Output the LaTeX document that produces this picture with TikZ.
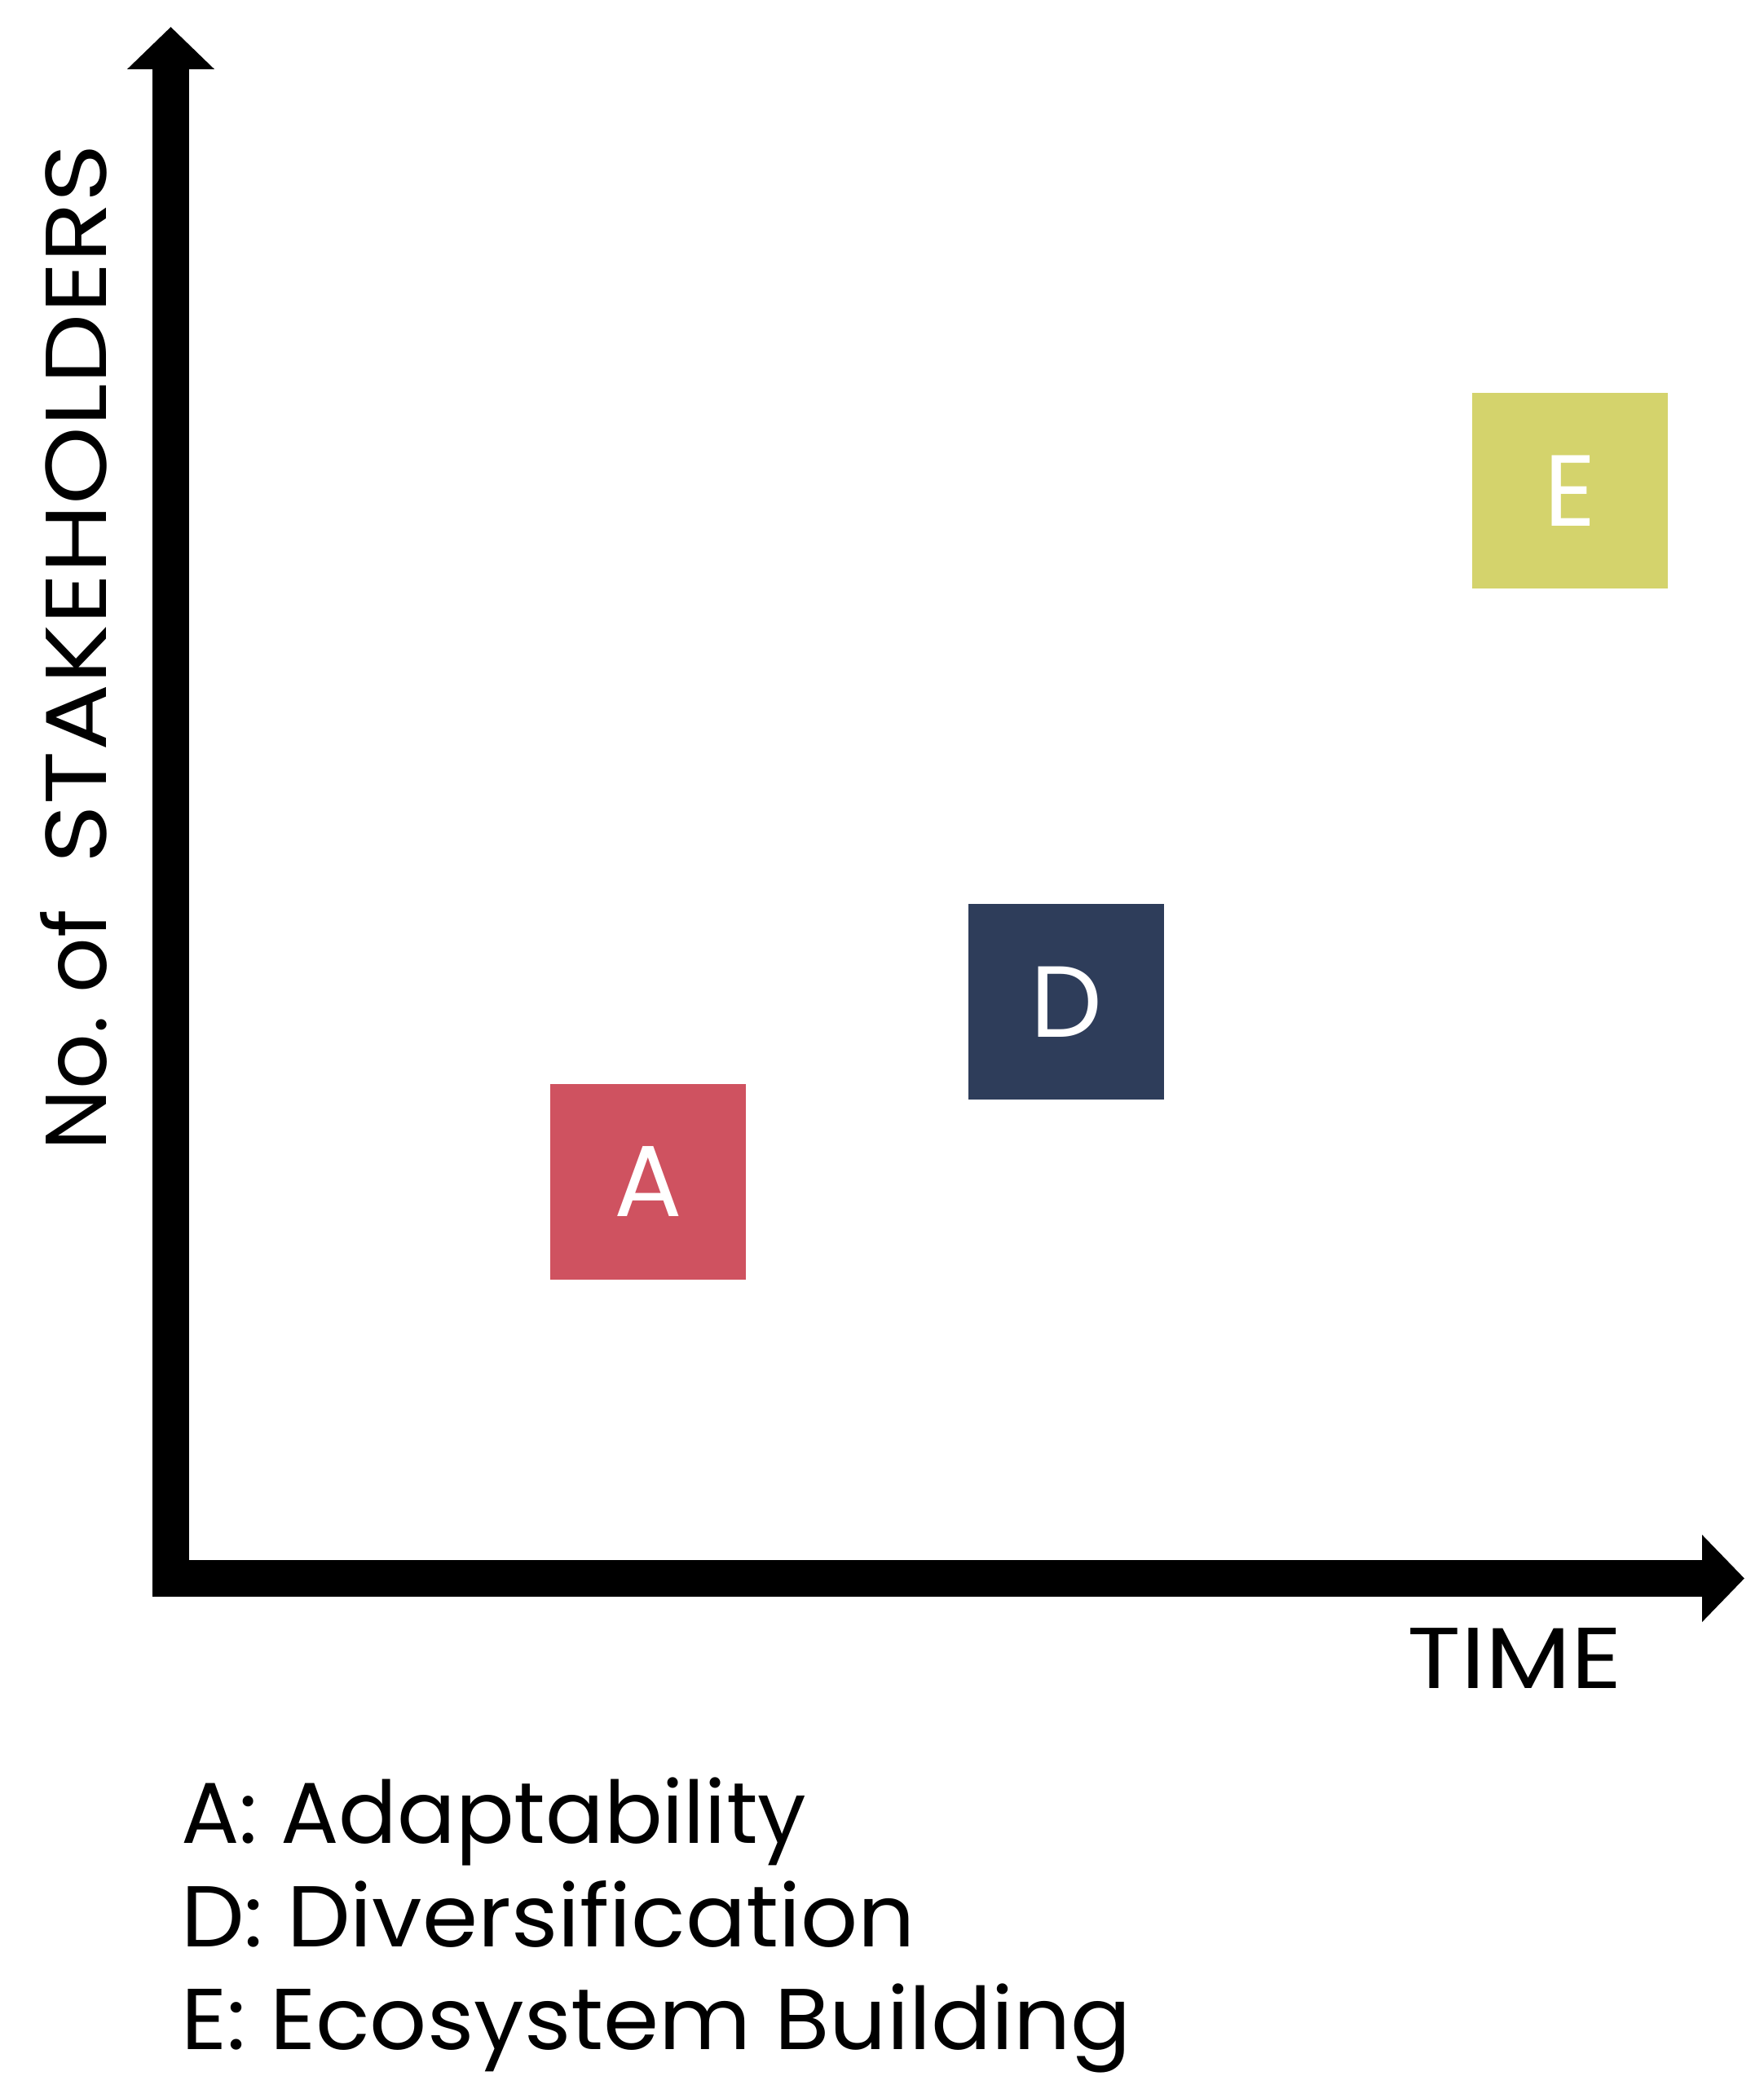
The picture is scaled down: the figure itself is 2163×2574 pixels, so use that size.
\documentclass[tikz,border=0pt]{standalone}
\usepackage{fontspec}
\setmainfont{Poppins}
\newfontfamily\widecaps{Poppins}[FakeStretch=1.15]
\newfontfamily\slightwide{Poppins}[FakeStretch=1.035]
\usetikzlibrary{arrows.meta}
\definecolor{colA}{HTML}{CF5260}
\definecolor{colD}{HTML}{2E3D5A}
\definecolor{colE}{HTML}{D4D36C}
\tikzset{
  axisline/.style={line width=45pt, line join=miter, black,
    {Triangle[width=104pt,length=52pt]}-{Triangle[width=104pt,length=52pt]}},
  letterbox/.style={minimum width=240pt, minimum height=240pt, inner sep=0pt,
    text=white, font=\fontsize{124}{124}\selectfont},
  bigtext/.style={font=\fontsize{106}{126}\selectfont, inner sep=0pt},
}
\begin{document}
\begin{tikzpicture}[x=1pt,y=-1pt]
\useasboundingbox (0,0) rectangle (2163,2574);
\coordinate (ytip) at (209.5,33);
\coordinate (origin) at (209.5,1936.5);
\coordinate (xtip) at (2140,1936.5);
\draw[axisline] (ytip) -- (origin) -- (xtip);
\node[letterbox, fill=colA] (A) at (795,1450) {A};
\node[letterbox, fill=colD] (D) at (1308,1229) {D};
\node[letterbox, fill=colE] (E) at (1926,602) {E};
\node[bigtext, rotate=90, anchor=base] (ylab) at (130,794) {No.\ of\ \ {\widecaps STAKEHOLDERS}};
\node[bigtext, anchor=base east] (time) at (1990,2071) {\widecaps TIME};
\node[bigtext, anchor=base west, align=left] (leg1) at (222,2261) {A: Adaptability};
\node[bigtext, anchor=base west, align=left] (leg2) at (222,2388) {\slightwide D: Diversification};
\node[bigtext, anchor=base west, align=left] (leg3) at (222,2514) {\slightwide E: Ecosystem Building};
\end{tikzpicture}
\end{document}
